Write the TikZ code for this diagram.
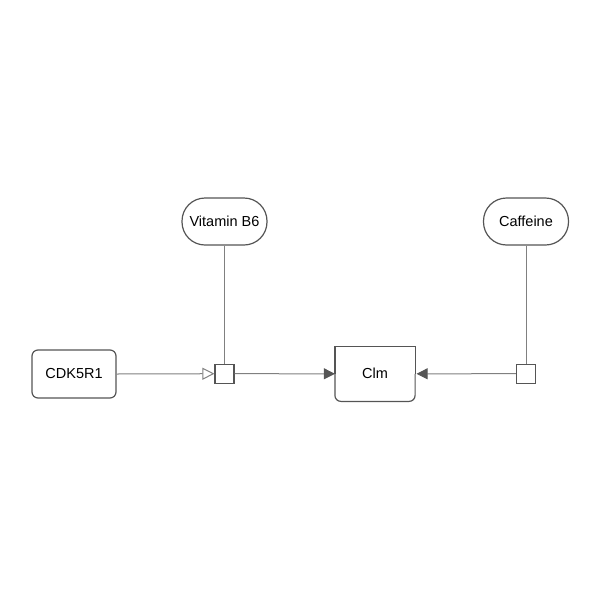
\documentclass[tikz,border=0pt]{standalone}
\usepackage{fontspec}
\setmainfont{Liberation Sans}
\usetikzlibrary{arrows.meta}
\definecolor{B}{RGB}{85,85,85}
\definecolor{A}{RGB}{128,128,128}
\newcommand{\drawarc}{\draw[line width=1pt, A]}
\newcommand{\drawborder}{\draw[line width=1.2pt, B]}
\tikzset{
  glyph/.style={draw=B, line width=1.2pt, inner sep=0pt, font=\fontsize{14.5}{17}\selectfont},
  macromolecule/.style={glyph, rounded corners=6pt, minimum width=84pt, minimum height=48pt},
  simplechem/.style={glyph, rounded corners=23pt, minimum width=85pt, minimum height=47pt},
  process/.style={glyph, minimum size=19pt},
  consume/.style={-{Triangle[open, length=12pt, width=12pt, fill=white]}},
  produce/.style={-{Triangle[length=11pt, width=11pt, color=B]}}
}
\begin{document}
\begin{tikzpicture}[x=1pt,y=-1pt]
\useasboundingbox (0,0) rectangle (600,600);
\node[macromolecule] (cdk) at (74,374) {CDK5R1};
\node[simplechem] (vitb) at (224.5,221.5) {Vitamin B6};
\node[simplechem] (caff) at (526,221.5) {Caffeine};
\node[process] (p1) at (224.5,373.7) {};
\node[process] (p2) at (526,373.7) {};
\node[glyph, draw=none, minimum width=79pt, minimum height=54pt] (clm) at (375,373.8) {Clm};
% flat top, rounded bottom
\drawborder (clm.west) |- (clm.north) -| (clm.east);
\drawborder[rounded corners=6pt] (clm.west) |- (clm.south) -| (clm.east);
\drawarc[consume] (cdk.east) -- (p1.west);
\drawarc (vitb.south) -- (p1.north);
\drawarc (caff.south) -- (p2.north);
\drawarc[produce] (p1.east) -- (clm.west);
\drawarc[produce, shorten >=1.5pt] (p2.west) -- (clm.east);
\end{tikzpicture}
\end{document}
